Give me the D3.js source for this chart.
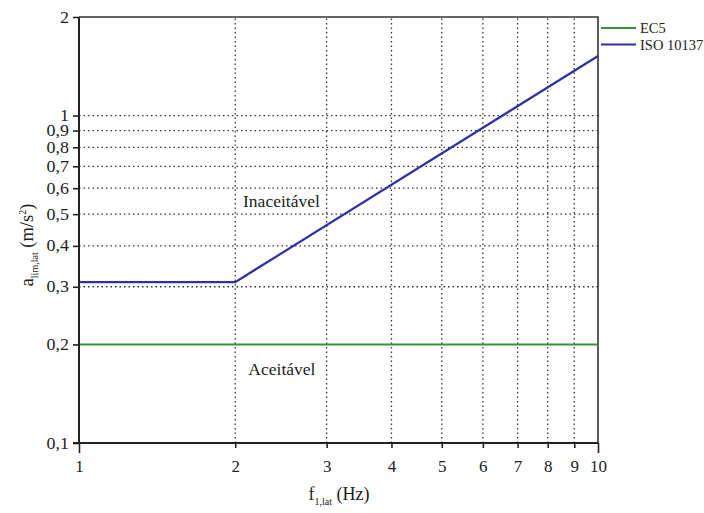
<!DOCTYPE html>
<html>
<head>
<meta charset="utf-8">
<script src="https://cdn.jsdelivr.net/npm/d3@7"></script>
<style>
  html, body { margin: 0; padding: 0; background: #fff; }
  svg text { font-family: "Liberation Serif", "Times New Roman", serif; fill: #222; }
</style>
</head>
<body>
<svg id="chart" width="704" height="513"></svg>
<script>
// Frequency (Hz) vs lateral acceleration limit (m/s²), log-log
const xTicks = [1, 2, 3, 4, 5, 6, 7, 8, 9, 10];
const yTicks = [0.1, 0.2, 0.3, 0.4, 0.5, 0.6, 0.7, 0.8, 0.9, 1, 2];
const gridX = [2, 3, 4, 5, 6, 7, 8, 9];
const gridY = [0.3, 0.4, 0.5, 0.6, 0.7, 0.8, 0.9, 1];

const seriesNames = ["EC5", "ISO 10137"];
const seriesColors = ["#3a8f3a", "#2f2fa8"];
const ec5Freq = [1, 10];
const ec5Acc = [0.2, 0.2];
const isoFreq = [1, 2, 10];
const isoAcc = [0.31, 0.31, 1.52];

const regionLabels = [
  { text: "Inaceitável", f: 2.455, a: 0.526 },
  { text: "Aceitável", f: 2.46, a: 0.1613 }
];

const margin = { left: 79, top: 17, right: 106, bottom: 70 };
const W = 704, H = 513;
const svg = d3.select("#chart");

const x = d3.scaleLog().domain([1, 10]).range([margin.left, W - margin.right]);
const y = d3.scaleLog().domain([0.1, 2]).range([H - margin.bottom, margin.top]);

const x0 = x.range()[0], x1 = x.range()[1];
const y0 = y.range()[0], y1 = y.range()[1];

// dotted grid
svg.append("g").selectAll("line").data(gridY).join("line")
  .attr("x1", x0).attr("x2", x1)
  .attr("y1", d => y(d)).attr("y2", d => y(d))
  .attr("stroke", "#333").attr("stroke-width", 1.3)
  .attr("stroke-dasharray", "1.5,3");
svg.append("g").selectAll("line").data(gridX).join("line")
  .attr("y1", y0).attr("y2", y1)
  .attr("x1", d => x(d)).attr("x2", d => x(d))
  .attr("stroke", "#333").attr("stroke-width", 1.3)
  .attr("stroke-dasharray", "1.5,3");

// frame top and right
svg.append("path")
  .attr("d", `M${x0},${y1}H${x1}V${y0}`)
  .attr("fill", "none").attr("stroke", "#333").attr("stroke-width", 1.6);

// series lines
const line = d3.line().x(d => x(d[0])).y(d => y(d[1]));
svg.append("path").datum(d3.zip(ec5Freq, ec5Acc))
  .attr("d", line).attr("fill", "none")
  .attr("stroke", seriesColors[0]).attr("stroke-width", 2);
svg.append("path").datum(d3.zip(isoFreq, isoAcc))
  .attr("d", line).attr("fill", "none")
  .attr("stroke", seriesColors[1]).attr("stroke-width", 2.2);

// axes
const fmt = d => String(d).replace(".", ",");
const xAxis = svg.append("g").attr("transform", `translate(0,${y0})`)
  .call(d3.axisBottom(x).tickValues(xTicks).tickFormat(fmt).tickSize(5).tickPadding(12).tickSizeOuter(0));
xAxis.selectAll(".tick line").attr("y2", d => (d === 1 || d === 10) ? 10 : 5);
const yAxis = svg.append("g").attr("transform", `translate(${x0},0)`)
  .call(d3.axisLeft(y).tickValues(yTicks).tickFormat(fmt).tickSize(6).tickPadding(3).tickSizeOuter(0));
[xAxis, yAxis].forEach(g => {
  g.attr("font-family", null).attr("font-size", null);
  g.select(".domain").attr("stroke", "#222").attr("stroke-width", 2);
  g.selectAll(".tick line").attr("stroke", "#222").attr("stroke-width", 1.6);
  g.selectAll(".tick text").attr("fill", "#222");
});
xAxis.selectAll(".tick text").attr("font-size", 17);
yAxis.selectAll(".tick text").attr("font-size", 16)
  .attr("transform", "scale(1.12,1)");
yAxis.select(".domain").attr("d", `M0,${y0}V${y1}`);
xAxis.select(".domain").attr("d", `M${x0 - 6},0H${x1}`);

// region labels
svg.append("g").selectAll("text").data(regionLabels).join("text")
  .attr("x", d => x(d.f)).attr("y", d => y(d.a))
  .attr("text-anchor", "middle").attr("font-size", 17.5)
  .text(d => d.text);

// axis titles
const xt = svg.append("text").attr("x", 339).attr("y", 500)
  .attr("text-anchor", "middle").attr("font-size", 18);
xt.append("tspan").text("f");
xt.append("tspan").attr("font-size", 10).attr("dy", 5).text("1,lat");
xt.append("tspan").attr("dy", -5).text(" (Hz)");

const yt = svg.append("text")
  .attr("transform", `translate(33,${245}) rotate(-90)`)
  .attr("text-anchor", "middle").attr("font-size", 18.5);
yt.append("tspan").text("a");
yt.append("tspan").attr("font-size", 10).attr("dy", 5).text("lim,lat");
yt.append("tspan").attr("dy", -5).text(" (m/s");
yt.append("tspan").attr("font-size", 10).attr("dy", -7).text("2");
yt.append("tspan").attr("dy", 7).text(")");

// legend
const leg = svg.append("g").attr("transform", `translate(601,28)`);
seriesNames.forEach((name, i) => {
  const g = leg.append("g").attr("transform", `translate(0,${i * 16.5})`);
  g.append("line").attr("x1", 0).attr("x2", 35)
    .attr("stroke", seriesColors[i]).attr("stroke-width", 2);
  g.append("text").attr("x", 39).attr("y", 5).attr("font-size", 14.5).text(name);
});
</script>
</body>
</html>
